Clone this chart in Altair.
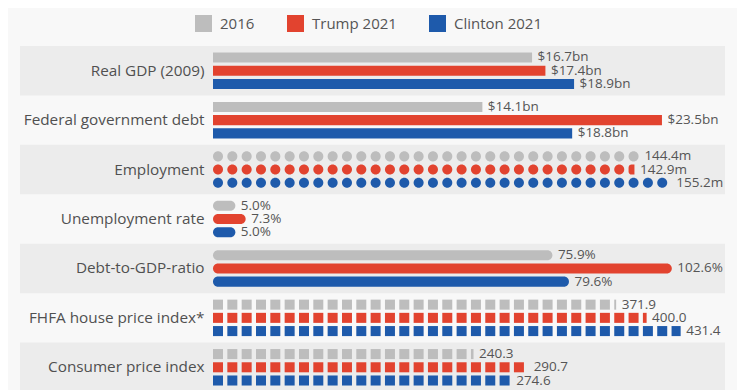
import altair as alt
import pandas as pd

categories = ["Real GDP (2009)", "Federal government debt", "Employment",
              "Unemployment rate", "Debt-to-GDP-ratio",
              "FHFA house price index*", "Consumer price index"]
series = ["2016", "Trump 2021", "Clinton 2021"]
values_2016 = [16.7, 14.1, 144.4, 5.0, 75.9, 371.9, 240.3]
values_trump = [17.4, 23.5, 142.9, 7.3, 102.6, 400.0, 290.7]
values_clinton = [18.9, 18.8, 155.2, 5.0, 79.6, 431.4, 274.6]
units = ["bn", "bn", "m", "%", "%", "idx", "idx"]
shaded = [True, False, True, False, True, False, True]

colors = ["#bdbdbd", "#e2432f", "#1e5aab"]

# styling per unit group
style = {"bn": "bar", "m": "dot", "%": "pill", "idx": "square"}
full_scale = {"bn": 26.8, "m": 173.6, "%": 114.5, "idx": 472.3}
fmt = {"bn": "${:.1f}bn", "m": "{:.1f}m", "%": "{:.1f}%", "idx": "{:.1f}"}

W = 512
H = 346
PERIOD = 14.33 / W
UNIT = 10.0 / W
FONT = "Open Sans"

all_values = [values_2016, values_trump, values_clinton]

plain, pills, dots_full, dots_part, texts = [], [], [], [], []
for i, cat in enumerate(categories):
    u = units[i]
    for s, vals in zip(series, all_values):
        v = vals[i]
        frac = v / full_scale[u]
        texts.append({"category": cat, "series": s, "frac": frac, "label": fmt[u].format(v)})
        st = style[u]
        if st == "bar":
            plain.append({"category": cat, "series": s, "x0": 0.0, "x1": frac})
        elif st == "pill":
            pills.append({"category": cat, "series": s, "x0": 0.0, "x1": frac})
        else:
            k = 0
            while k * PERIOD < frac:
                a = k * PERIOD
                b = min(a + UNIT, frac)
                rec = {"category": cat, "series": s, "x0": a, "x1": b}
                if st == "square":
                    plain.append(rec)
                elif b - a >= UNIT - 1e-9:
                    dots_full.append(rec)
                else:
                    dots_part.append(rec)
                k += 1

band_df = pd.DataFrame({"category": [c for c, sh in zip(categories, shaded) if sh]})

y_enc = alt.Y("category:N", title=None,
              scale=alt.Scale(domain=categories, paddingInner=0, paddingOuter=0),
              axis=alt.Axis(domain=False, ticks=False, labelFontSize=15.3, labelFont=FONT,
                            labelColor="#505050", labelPadding=9, labelLimit=400, zindex=1))
yoff = alt.YOffset("series:N", scale=alt.Scale(domain=series, paddingInner=0.24, paddingOuter=0.49))
x_scale = alt.Scale(domain=[0, 1], nice=False, zero=False)
color_enc = alt.Color("series:N", scale=alt.Scale(domain=series, range=colors),
                      legend=alt.Legend(title=None, orient="none", legendX=-18, legendY=-31,
                                        direction="horizontal", symbolType="square",
                                        symbolSize=289, symbolStrokeWidth=0,
                                        labelFontSize=15, labelFont=FONT, labelColor="#555555",
                                        columnPadding=32, labelOffset=8, padding=0))

bands = alt.Chart(band_df).mark_rect(color="#ececec").encode(
    y=y_enc, x=alt.value(-193), x2=alt.value(W))


def rect_layer(rows, **mark):
    return alt.Chart(pd.DataFrame(rows)).mark_rect(**mark).encode(
        x=alt.X("x0:Q", scale=x_scale, axis=None), x2="x1:Q",
        y=y_enc, yOffset=yoff, color=color_enc)


plain_l = rect_layer(plain)
pill_l = rect_layer(pills, cornerRadius=5)
dot_l = rect_layer(dots_full, cornerRadius=5)
part_l = rect_layer(dots_part, cornerRadiusTopLeft=5, cornerRadiusBottomLeft=5)

text_l = alt.Chart(pd.DataFrame(texts)).mark_text(
    align="left", baseline="middle", dx=5.5, fontSize=13.5, font=FONT, color="#555555"
).encode(x=alt.X("frac:Q", scale=x_scale, axis=None), y=y_enc, yOffset=yoff, text="label:N")

chart = alt.layer(bands, plain_l, pill_l, dot_l, part_l, text_l).properties(
    width=W, height=H, background="#f8f8f8",
    padding={"left": 205, "top": 38, "right": 12, "bottom": 0},
    autosize=alt.AutoSizeParams(type="none"),
).configure_view(strokeWidth=0)

chart.save("out.html", embed_options={"renderer": "svg", "actions": False})
